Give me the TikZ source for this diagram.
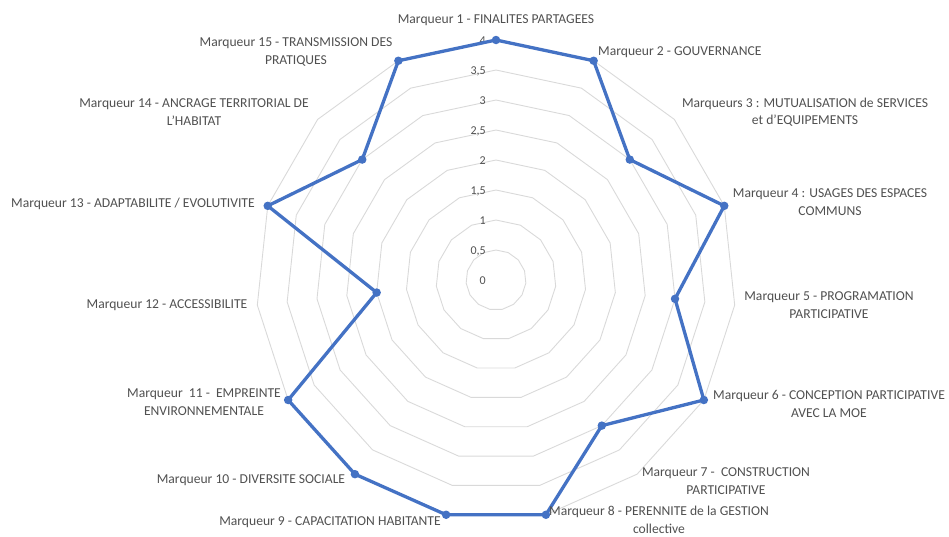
\documentclass[tikz,border=0pt]{standalone}
\usepackage{fontspec}
\setmainfont{Carlito}
\definecolor{txt}{HTML}{505050}
\definecolor{gridc}{HTML}{D9D9D9}
\definecolor{serie}{HTML}{4472C4}
\begin{document}
\begin{tikzpicture}[x=1pt,y=-1pt,
  gridring/.style={draw=gridc, line width=0.9pt},
  series/.style={draw=serie, line width=3.3pt, line join=round},
  dot/.style={circle, fill=serie, inner sep=0pt, minimum size=8.5pt},
  lab/.style={text=txt, font=\fontsize{13.6}{17.5}\selectfont, align=center, inner sep=0pt},
  tick/.style={text=txt, font=\fontsize{12}{13}\selectfont, anchor=east, inner sep=0pt}]
\useasboundingbox (0,0) rectangle (949,536);
% grid rings
\foreach \v in {1,...,8}{
  \draw[gridring] (496,{280-30*\v}) \foreach \k in {1,...,14}{ -- ({496+30*\v*sin(24*\k)},{280-30*\v*cos(24*\k)}) } -- cycle;
}
% scale labels
\foreach \v/\t in {0/0,1/{0,5},2/1,3/{1,5},4/2,5/{2,5},6/3,7/{3,5},8/4}{
  \node[tick] (t\v) at (486,{281-30*\v}) {\t};
}
% data points
\foreach \k/\val in {1/4,2/4,3/3,4/4,5/3,6/4,7/3,8/4,9/4,10/4,11/4,12/2,13/4,14/3,15/4}{
  \coordinate (p\k) at ({496+60*\val*sin(24*(\k-1))},{280-60*\val*cos(24*(\k-1))});
}
\draw[series] (p1) -- (p2) -- (p3) -- (p4) -- (p5) -- (p6) -- (p7) -- (p8) -- (p9) -- (p10) -- (p11) -- (p12) -- (p13) -- (p14) -- (p15) -- cycle;
\foreach \k in {1,...,15}{ \node[dot] (d\k) at (p\k) {}; }
% labels
\node[lab] (l1) at (496,20) {Marqueur 1 - FINALITES PARTAGEES};
\node[lab, anchor=west] (l2) at (598,52) {Marqueur 2 - GOUVERNANCE};
\node[lab] (l3) at (805,112) {Marqueurs 3 : MUTUALISATION de SERVICES\\et d’EQUIPEMENTS};
\node[lab] (l4) at (830,202) {Marqueur 4 : USAGES DES ESPACES\\COMMUNS};
\node[lab] (l5) at (829,305) {Marqueur 5 - PROGRAMATION\\PARTICIPATIVE};
\node[lab] (l6) at (829,404) {Marqueur 6 - CONCEPTION PARTICIPATIVE\\AVEC LA MOE};
\node[lab] (l7) at (726,481) {Marqueur 7 -\ \ CONSTRUCTION\\PARTICIPATIVE};
\node[lab] (l8) at (659,520) {Marqueur 8 - PERENNITE de la GESTION\\collective};
\node[lab] (l9) at (330,522) {Marqueur 9 - CAPACITATION HABITANTE};
\node[lab] (l10) at (251,480) {Marqueur 10 - DIVERSITE SOCIALE};
\node[lab] (l11) at (204,402) {Marqueur\ \ 11 -\ \ EMPREINTE\\ENVIRONNEMENTALE};
\node[lab] (l12) at (167,305) {Marqueur 12 - ACCESSIBILITE};
\node[lab] (l13) at (133,204) {Marqueur 13 - ADAPTABILITE / EVOLUTIVITE};
\node[lab] (l14) at (194,112) {Marqueur 14 - ANCRAGE TERRITORIAL DE\\L’HABITAT};
\node[lab] (l15) at (296,52) {Marqueur 15 - TRANSMISSION DES\\PRATIQUES};
\end{tikzpicture}
\end{document}
